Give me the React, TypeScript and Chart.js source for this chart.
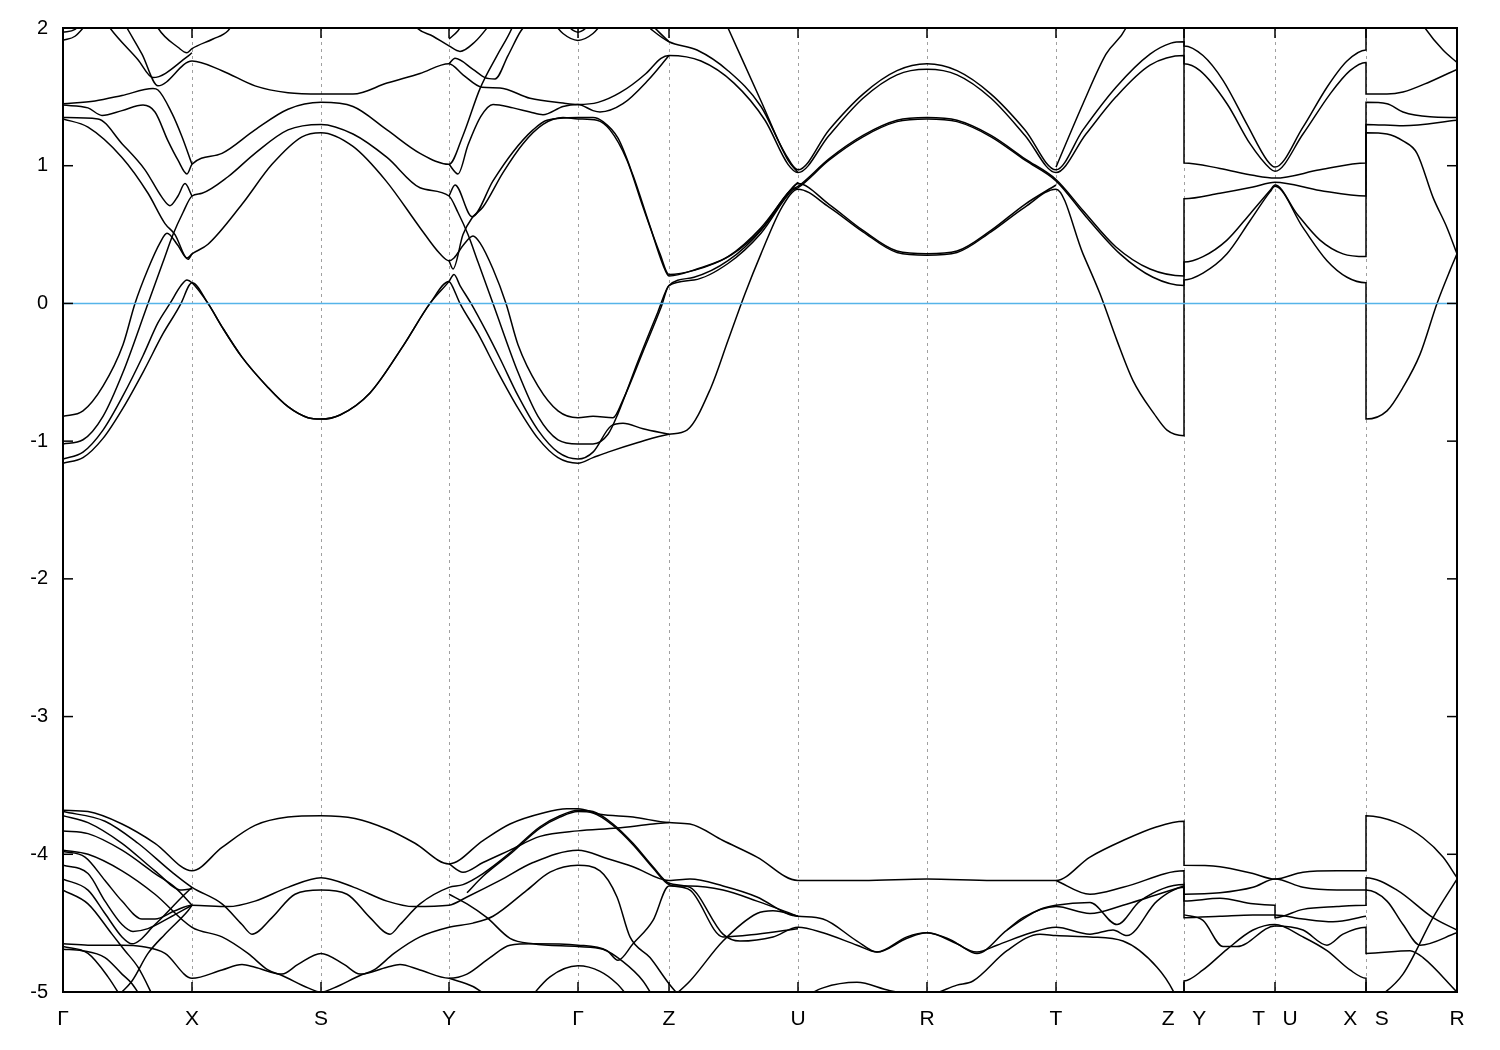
import { useEffect, useRef } from 'react';
import { Chart, registerables } from 'chart.js';

Chart.register(...registerables);

type Pt = [number, number];

// High-symmetry k positions and labels
const kPos = [0, 0.129, 0.258, 0.386, 0.515, 0.606, 0.735, 0.864, 0.993, 1.121, 1.212, 1.303, 1.394];
const kLabels = ['Γ', 'X', 'S', 'Y', 'Γ', 'Z', 'U', 'R', 'T', 'Z   Y', 'T   U', 'X   S', 'R'];
const eTicks = [2, 1, 0, -1, -2, -3, -4, -5];
const fermiLine: Pt[] = [[0, 0], [1.394, 0]];

// ---------- bands near the Fermi level ----------
const u1: Pt[] = [[0,-1.16],[0.02,-1.12],[0.04,-0.98],[0.06,-0.76],[0.08,-0.50],[0.10,-0.22],[0.118,0.0],[0.126,0.13],[0.129,0.15],[0.145,0.0],[0.159,-0.17],[0.179,-0.39],[0.205,-0.61],[0.225,-0.75],[0.245,-0.83],[0.258,-0.84],[0.277,-0.81],[0.307,-0.65],[0.340,-0.31],[0.367,0.0],[0.386,0.16],[0.389,0.13],[0.397,0.0],[0.415,-0.22],[0.435,-0.50],[0.455,-0.76],[0.475,-0.98],[0.495,-1.12],[0.515,-1.16],[0.530,-1.12],[0.545,-1.08],[0.575,-1.01],[0.606,-0.95],[0.624,-0.92],[0.648,-0.61],[0.665,-0.27],[0.682,0.07],[0.698,0.36],[0.719,0.70],[0.735,0.83],[0.766,0.70],[0.800,0.52],[0.834,0.37],[0.864,0.35],[0.894,0.37],[0.928,0.52],[0.962,0.70],[0.993,0.83],[1.020,0.36],[1.037,0.07],[1.054,-0.27],[1.070,-0.56],[1.091,-0.80],[1.104,-0.92],[1.121,-0.96],[1.121,0.17],[1.140,0.22],[1.164,0.36],[1.187,0.60],[1.207,0.81],[1.212,0.85],[1.240,0.55],[1.264,0.31],[1.284,0.19],[1.303,0.15],[1.303,-0.84],[1.324,-0.78],[1.340,-0.61],[1.357,-0.37],[1.374,0.0],[1.387,0.24],[1.394,0.36]];
const u2: Pt[] = [[0,-1.13],[0.02,-1.08],[0.04,-0.92],[0.06,-0.67],[0.08,-0.38],[0.095,-0.14],[0.107,0.0],[0.118,0.13],[0.124,0.17],[0.129,0.15],[0.145,0.0],[0.159,-0.17],[0.179,-0.39],[0.205,-0.61],[0.225,-0.75],[0.245,-0.83],[0.258,-0.84],[0.277,-0.81],[0.307,-0.65],[0.340,-0.31],[0.367,0.0],[0.386,0.16],[0.391,0.21],[0.397,0.13],[0.408,0.0],[0.423,-0.20],[0.437,-0.40],[0.455,-0.67],[0.475,-0.92],[0.495,-1.08],[0.515,-1.13],[0.530,-1.08],[0.548,-0.89],[0.560,-0.87],[0.580,-0.91],[0.606,-0.95]];
const u3: Pt[] = [[0,-0.82],[0.02,-0.78],[0.04,-0.60],[0.06,-0.30],[0.072,0.0],[0.085,0.25],[0.097,0.44],[0.104,0.51],[0.115,0.42],[0.124,0.33],[0.129,0.36],[0.145,0.43],[0.179,0.72],[0.209,1.01],[0.239,1.21],[0.258,1.24],[0.290,1.14],[0.323,0.89],[0.357,0.55],[0.377,0.36],[0.386,0.31],[0.391,0.33],[0.400,0.42],[0.410,0.49],[0.417,0.44],[0.430,0.25],[0.443,0.0],[0.455,-0.30],[0.475,-0.60],[0.495,-0.78],[0.515,-0.83],[0.530,-0.82],[0.550,-0.83],[0.560,-0.70],[0.580,-0.35],[0.598,-0.03],[0.606,0.13],[0.631,0.17],[0.665,0.29],[0.698,0.51],[0.729,0.82],[0.735,0.84],[0.766,1.04],[0.800,1.21],[0.834,1.32],[0.864,1.34],[0.894,1.32],[0.928,1.21],[0.962,1.04],[0.993,0.89],[1.023,0.63],[1.057,0.36],[1.090,0.19],[1.121,0.13],[1.121,0.30],[1.140,0.34],[1.164,0.46],[1.187,0.65],[1.207,0.82],[1.212,0.86],[1.234,0.65],[1.257,0.46],[1.280,0.36],[1.303,0.34],[1.303,1.24],[1.324,1.23],[1.340,1.18],[1.354,1.09],[1.370,0.77],[1.384,0.55],[1.394,0.36]];
const u4: Pt[] = [[0,-1.02],[0.02,-0.99],[0.04,-0.82],[0.06,-0.50],[0.085,0.0],[0.100,0.30],[0.110,0.50],[0.120,0.66],[0.129,0.78],[0.139,0.80],[0.165,0.92],[0.192,1.09],[0.225,1.26],[0.258,1.30],[0.290,1.23],[0.324,1.06],[0.357,0.84],[0.386,0.78],[0.395,0.66],[0.405,0.50],[0.415,0.30],[0.430,0.0],[0.455,-0.50],[0.475,-0.82],[0.495,-0.99],[0.515,-1.02],[0.530,-1.02],[0.545,-0.95],[0.555,-0.80],[0.575,-0.42],[0.595,-0.06],[0.606,0.13],[0.631,0.19],[0.665,0.31],[0.698,0.53],[0.727,0.82],[0.735,0.85],[0.766,1.05],[0.800,1.22],[0.834,1.33],[0.864,1.35],[0.894,1.33],[0.928,1.22],[0.962,1.05],[0.993,0.90],[1.020,0.675],[1.053,0.41],[1.087,0.25],[1.121,0.20],[1.121,0.76],[1.157,0.80],[1.190,0.845],[1.212,0.88],[1.257,0.82],[1.303,0.78],[1.303,1.30],[1.340,1.29],[1.394,1.33]];
const u5a: Pt[] = [[0,1.34],[0.025,1.28],[0.059,1.06],[0.085,0.80],[0.102,0.58],[0.112,0.50],[0.125,0.32],[0.129,0.36]];
const u5b: Pt[] = [[0.386,0.31],[0.390,0.25],[0.400,0.50],[0.409,0.62],[0.420,0.70],[0.440,0.95],[0.460,1.16],[0.480,1.30],[0.500,1.35],[0.515,1.34],[0.534,1.33],[0.547,1.26],[0.564,1.04],[0.580,0.70],[0.597,0.36],[0.606,0.21],[0.631,0.24],[0.665,0.34],[0.698,0.55],[0.725,0.80],[0.735,0.87],[0.766,0.72],[0.800,0.53],[0.834,0.38],[0.864,0.36],[0.894,0.38],[0.928,0.53],[0.962,0.72],[0.993,0.86]];
const u6a: Pt[] = [[0,1.35],[0.035,1.34],[0.059,1.16],[0.082,0.97],[0.099,0.77],[0.107,0.71],[0.115,0.78],[0.122,0.87],[0.129,0.78]];
const u6b: Pt[] = [[0.386,0.78],[0.392,0.86],[0.409,0.63],[0.430,0.89],[0.450,1.10],[0.470,1.26],[0.484,1.33],[0.515,1.35],[0.530,1.35],[0.540,1.32],[0.555,1.20],[0.570,0.93],[0.587,0.56],[0.600,0.28],[0.606,0.20],[0.634,0.25],[0.668,0.35],[0.701,0.56],[0.727,0.82],[0.735,0.88]];
const u7: Pt[] = [[0,1.44],[0.025,1.42],[0.039,1.365],[0.059,1.40],[0.080,1.44],[0.092,1.39],[0.105,1.18],[0.115,1.04],[0.124,0.94],[0.129,1.01],[0.159,1.09],[0.192,1.26],[0.225,1.41],[0.258,1.46],[0.290,1.43],[0.324,1.26],[0.357,1.09],[0.386,1.01],[0.400,1.22],[0.417,1.56],[0.434,1.80],[0.449,2.0],[0.452,2.06]];
const u8a: Pt[] = [[0,1.45],[0.032,1.47],[0.059,1.51],[0.090,1.56],[0.095,1.55],[0.109,1.38],[0.119,1.21],[0.129,1.01]];
const u8b: Pt[] = [[0.386,1.01],[0.395,0.94],[0.405,1.15],[0.418,1.36],[0.430,1.445],[0.450,1.42],[0.467,1.39],[0.480,1.37],[0.500,1.43],[0.515,1.445],[0.530,1.40],[0.537,1.39],[0.560,1.45],[0.585,1.62],[0.606,1.80]];
const u9: Pt[] = [[0.040,2.08],[0.047,2.0],[0.075,1.77],[0.090,1.64],[0.124,1.79],[0.129,1.82]];
const u10: Pt[] = [[0.058,2.08],[0.064,2.0],[0.079,1.81],[0.095,1.58],[0.129,1.76],[0.159,1.69],[0.192,1.58],[0.225,1.53],[0.258,1.52],[0.290,1.52],[0.324,1.60],[0.357,1.67],[0.386,1.74],[0.400,1.66],[0.419,1.57],[0.437,1.565],[0.467,1.49],[0.500,1.455],[0.515,1.445],[0.535,1.46],[0.557,1.53],[0.583,1.67],[0.598,1.78],[0.606,1.80],[0.638,1.76],[0.671,1.60],[0.702,1.33],[0.725,1.01],[0.735,0.95],[0.766,1.22],[0.800,1.49],[0.834,1.66],[0.864,1.70],[0.894,1.66],[0.928,1.49],[0.962,1.22],[0.993,0.95],[1.023,1.23],[1.053,1.50],[1.087,1.73],[1.121,1.80],[1.121,1.02],[1.157,0.98],[1.190,0.93],[1.212,0.91],[1.257,0.97],[1.303,1.02],[1.303,1.46],[1.324,1.45],[1.340,1.39],[1.367,1.355],[1.394,1.35]];
const u11: Pt[] = [[0.386,1.74],[0.392,1.78],[0.410,1.70],[0.422,1.64],[0.432,1.63],[0.445,1.80],[0.458,1.98],[0.468,2.06]];
const u12: Pt[] = [[0.090,2.08],[0.095,2.0],[0.115,1.86],[0.124,1.82],[0.129,1.85],[0.150,1.92],[0.165,1.98],[0.172,2.06]];
const u13: Pt[] = [[0.348,2.06],[0.354,2.0],[0.370,1.94],[0.386,1.87],[0.397,1.83],[0.412,1.90],[0.424,2.0],[0.430,2.06]];
const u14: Pt[] = [[0,1.97],[0.012,1.99],[0.020,2.06]];
const u15: Pt[] = [[0,1.91],[0.012,1.94],[0.027,2.06]];
const u16: Pt[] = [[0.488,2.06],[0.500,1.96],[0.515,1.91],[0.530,1.96],[0.542,2.06]];
const u17: Pt[] = [[0.500,2.06],[0.507,2.0],[0.515,1.97],[0.523,2.0],[0.530,2.06]];
const u18: Pt[] = [[0.578,2.06],[0.590,1.98],[0.606,1.90],[0.634,1.84],[0.665,1.69],[0.698,1.43],[0.722,1.09],[0.735,0.97],[0.766,1.26],[0.800,1.52],[0.834,1.69],[0.864,1.74],[0.894,1.69],[0.928,1.52],[0.962,1.26],[0.993,0.97],[1.020,1.26],[1.053,1.57],[1.087,1.81],[1.108,1.89],[1.121,1.90],[1.121,1.74],[1.137,1.69],[1.164,1.45],[1.187,1.16],[1.207,0.98],[1.212,0.96],[1.240,1.23],[1.267,1.52],[1.287,1.69],[1.303,1.75],[1.303,1.52],[1.324,1.52],[1.340,1.535],[1.367,1.61],[1.394,1.70]];
const u19: Pt[] = [[0.584,2.06],[0.596,1.97],[0.606,1.90]];
const u20: Pt[] = [[0.660,2.08],[0.665,2.0],[0.698,1.47],[0.725,1.04],[0.735,0.95]];
const u21: Pt[] = [[0.993,0.99],[1.020,1.45],[1.043,1.81],[1.063,2.0],[1.066,2.06]];
const u22: Pt[] = [[1.121,2.06],[1.121,1.87],[1.140,1.80],[1.160,1.62],[1.184,1.30],[1.204,1.04],[1.212,0.99],[1.240,1.28],[1.264,1.57],[1.284,1.76],[1.303,1.84],[1.303,2.06]];
const u23: Pt[] = [[1.357,2.06],[1.362,2.0],[1.380,1.84],[1.394,1.75]];
const u24: Pt[] = [[0.386,1.92],[0.395,1.98],[0.402,2.06]];

// ---------- deeper bands (-5 .. -3.6 eV) ----------
const l1: Pt[] = [[0,-3.68],[0.025,-3.69],[0.059,-3.78],[0.092,-3.92],[0.129,-4.12],[0.159,-3.95],[0.192,-3.79],[0.225,-3.73],[0.258,-3.72],[0.292,-3.74],[0.325,-3.82],[0.352,-3.92],[0.386,-4.07],[0.420,-3.90],[0.447,-3.78],[0.480,-3.70],[0.504,-3.67],[0.515,-3.67],[0.537,-3.71],[0.570,-3.73],[0.606,-3.77],[0.627,-3.78],[0.660,-3.90],[0.694,-4.02],[0.735,-4.19],[0.800,-4.19],[0.864,-4.18],[0.930,-4.19],[0.993,-4.19],[1.027,-4.02],[1.060,-3.90],[1.094,-3.80],[1.121,-3.76],[1.121,-4.08],[1.157,-4.09],[1.190,-4.14],[1.212,-4.18],[1.240,-4.13],[1.274,-4.12],[1.303,-4.12],[1.303,-3.72],[1.334,-3.77],[1.360,-3.88],[1.380,-4.02],[1.394,-4.17]];
const l2: Pt[] = [[0,-3.69],[0.042,-3.76],[0.075,-3.92],[0.109,-4.13],[0.129,-4.24],[0.159,-4.36],[0.179,-4.51],[0.189,-4.58],[0.209,-4.46],[0.232,-4.29],[0.258,-4.26],[0.284,-4.29],[0.307,-4.46],[0.327,-4.58],[0.337,-4.51],[0.357,-4.36],[0.386,-4.24],[0.400,-4.22],[0.420,-4.14],[0.447,-3.99],[0.477,-3.80],[0.497,-3.72],[0.515,-3.68],[0.530,-3.69],[0.550,-3.78],[0.570,-3.92],[0.590,-4.09],[0.606,-4.21],[0.627,-4.24],[0.660,-4.58],[0.677,-4.63],[0.710,-4.60],[0.735,-4.53],[0.760,-4.57],[0.794,-4.66],[0.814,-4.71],[0.844,-4.61],[0.864,-4.57],[0.884,-4.61],[0.914,-4.71],[0.934,-4.66],[0.968,-4.57],[0.993,-4.53],[1.027,-4.58],[1.050,-4.55],[1.064,-4.59],[1.094,-4.34],[1.121,-4.24],[1.121,-4.46],[1.157,-4.45],[1.190,-4.44],[1.212,-4.44],[1.240,-4.47],[1.270,-4.49],[1.303,-4.45]];
const l2b: Pt[] = [[0.404,-4.28],[0.420,-4.16],[0.447,-4.00],[0.477,-3.81],[0.497,-3.73],[0.515,-3.69],[0.530,-3.70],[0.550,-3.79],[0.570,-3.93],[0.590,-4.10],[0.606,-4.22],[0.627,-4.26],[0.660,-4.60],[0.694,-4.58],[0.735,-4.54]];
const l3: Pt[] = [[0,-3.72],[0.025,-3.77],[0.059,-3.92],[0.092,-4.12],[0.119,-4.26],[0.129,-4.25]];
const l4: Pt[] = [[0,-3.98],[0.022,-4.02],[0.042,-4.19],[0.059,-4.34],[0.079,-4.47],[0.092,-4.47],[0.112,-4.41],[0.129,-4.37],[0.165,-4.38],[0.192,-4.34],[0.225,-4.24],[0.258,-4.17],[0.291,-4.24],[0.324,-4.34],[0.351,-4.38],[0.386,-4.37],[0.404,-4.31],[0.437,-4.19],[0.470,-4.06],[0.515,-3.97],[0.544,-4.03],[0.570,-4.09],[0.606,-4.19],[0.627,-4.18],[0.660,-4.23],[0.694,-4.31],[0.727,-4.44],[0.735,-4.45],[0.760,-4.47],[0.794,-4.63],[0.814,-4.71],[0.844,-4.60],[0.864,-4.57],[0.894,-4.65],[0.914,-4.72],[0.944,-4.55],[0.977,-4.40],[0.993,-4.37],[1.027,-4.35],[1.054,-4.51],[1.077,-4.34],[1.121,-4.22],[1.121,-4.34],[1.157,-4.32],[1.190,-4.36],[1.212,-4.37],[1.212,-4.46],[1.240,-4.40],[1.274,-4.38],[1.303,-4.37],[1.303,-4.17],[1.334,-4.26],[1.370,-4.46],[1.394,-4.55]];
const l5: Pt[] = [[0,-3.97],[0.025,-4.0],[0.059,-4.12],[0.092,-4.29],[0.129,-4.53],[0.159,-4.60],[0.185,-4.72],[0.205,-4.84],[0.219,-4.88],[0.245,-4.97],[0.258,-5.0],[0.271,-4.97],[0.297,-4.88],[0.311,-4.84],[0.331,-4.72],[0.357,-4.60],[0.386,-4.53],[0.410,-4.50],[0.430,-4.45],[0.464,-4.26],[0.487,-4.13],[0.515,-4.08],[0.537,-4.12],[0.554,-4.31],[0.567,-4.60],[0.587,-4.75],[0.606,-4.94],[0.620,-5.06]];
const l6: Pt[] = [[0,-4.08],[0.025,-4.14],[0.042,-4.34],[0.059,-4.51],[0.070,-4.56],[0.085,-4.54],[0.109,-4.45],[0.129,-4.37]];
const l7: Pt[] = [[0,-4.18],[0.025,-4.26],[0.042,-4.43],[0.059,-4.60],[0.069,-4.65],[0.092,-4.51],[0.119,-4.31],[0.129,-4.24]];
const l8: Pt[] = [[0,-4.26],[0.025,-4.36],[0.049,-4.58],[0.062,-4.70],[0.075,-4.82],[0.092,-5.06]];
const l9: Pt[] = [[0,-4.65],[0.025,-4.66],[0.059,-4.66],[0.079,-4.67],[0.102,-4.72],[0.129,-4.90],[0.159,-4.84],[0.179,-4.80],[0.192,-4.82],[0.219,-4.87],[0.235,-4.80],[0.258,-4.72],[0.281,-4.80],[0.297,-4.87],[0.324,-4.82],[0.337,-4.80],[0.357,-4.84],[0.386,-4.90],[0.404,-4.87],[0.427,-4.75],[0.447,-4.66],[0.470,-4.65],[0.515,-4.66],[0.544,-4.70],[0.555,-4.77],[0.570,-4.65],[0.590,-4.48],[0.606,-4.23],[0.627,-4.23],[0.660,-4.26],[0.694,-4.34],[0.735,-4.45]];
const l10: Pt[] = [[0,-4.69],[0.019,-4.70],[0.042,-4.75],[0.059,-4.87],[0.069,-4.94],[0.080,-5.06]];
const l11: Pt[] = [[0,-4.67],[0.025,-4.72],[0.045,-4.89],[0.060,-5.06]];
const l12: Pt[] = [[0.050,-5.06],[0.069,-4.92],[0.085,-4.72],[0.102,-4.58],[0.125,-4.41],[0.129,-4.37]];
const l13: Pt[] = [[0.386,-4.07],[0.400,-4.13],[0.420,-4.06],[0.447,-3.97],[0.477,-3.87],[0.515,-3.83],[0.554,-3.81],[0.590,-3.78],[0.606,-3.77]];
const l14: Pt[] = [[0.386,-4.29],[0.404,-4.36],[0.424,-4.46],[0.447,-4.61],[0.470,-4.65],[0.515,-4.67],[0.540,-4.69],[0.560,-4.78],[0.580,-4.92],[0.592,-5.06]];
const l15: Pt[] = [[0.465,-5.06],[0.487,-4.89],[0.515,-4.81],[0.537,-4.85],[0.554,-4.94],[0.568,-5.06]];
const l17: Pt[] = [[0.606,-5.06],[0.627,-4.92],[0.660,-4.63],[0.694,-4.43],[0.710,-4.41],[0.735,-4.45]];
const l18: Pt[] = [[0.735,-5.06],[0.760,-4.97],[0.794,-4.93],[0.827,-4.99],[0.864,-5.02],[0.894,-4.95],[0.910,-4.92],[0.944,-4.70],[0.977,-4.58],[0.993,-4.59],[1.027,-4.60],[1.060,-4.63],[1.094,-4.82],[1.110,-4.99],[1.114,-5.06]];
const l19: Pt[] = [[0.993,-4.19],[1.027,-4.29],[1.060,-4.24],[1.121,-4.12],[1.121,-4.29],[1.157,-4.28],[1.190,-4.24],[1.212,-4.18],[1.240,-4.24],[1.274,-4.26],[1.303,-4.26],[1.324,-4.34],[1.340,-4.51],[1.357,-4.66],[1.394,-4.57]];
const l20: Pt[] = [[1.121,-4.44],[1.140,-4.48],[1.160,-4.67],[1.174,-4.67],[1.212,-4.52],[1.240,-4.55],[1.264,-4.66],[1.280,-4.58],[1.303,-4.53],[1.303,-4.72],[1.347,-4.70],[1.360,-4.75],[1.394,-5.0]];
const l21: Pt[] = [[1.121,-5.06],[1.121,-4.92],[1.140,-4.84],[1.164,-4.69],[1.190,-4.55],[1.212,-4.51],[1.240,-4.60],[1.264,-4.70],[1.287,-4.84],[1.303,-4.90],[1.303,-5.06]];
const l22: Pt[] = [[1.313,-5.06],[1.340,-4.87],[1.370,-4.46],[1.394,-4.18]];
const l24: Pt[] = [[0.944,-4.55],[0.960,-4.46],[0.993,-4.38],[1.027,-4.43],[1.060,-4.37],[1.121,-4.23]];
const l25: Pt[] = [[0.386,-4.90],[0.410,-4.96],[0.430,-5.06]];
const l26: Pt[] = [[0,-3.83],[0.025,-3.85],[0.059,-3.97],[0.092,-4.14],[0.112,-4.24],[0.129,-4.37]];

const bandLines: Pt[][] = [
  u1, u2, u3, u4, u5a, u5b, u6a, u6b, u7, u8a, u8b, u9, u10, u11, u12, u13, u14, u15, u16, u17, u18, u19, u20, u21, u22, u23, u24,
  l1, l2, l2b, l3, l4, l5, l6, l7, l8, l9, l10, l11, l12, l13, l14, l15, l17, l18, l19, l20, l21, l22, l24, l25, l26,
];

const FONT = "'Liberation Sans', Arial, Helvetica, sans-serif";

const framePlugin = {
  id: 'gnuFrame',
  beforeDatasetsDraw(chart: any) {
    const { ctx, chartArea: a, scales } = chart;
    ctx.save();
    ctx.strokeStyle = '#a0a0a0';
    ctx.lineWidth = 1;
    ctx.setLineDash([3, 4]);
    kPos.forEach((k) => {
      const px = Math.round(scales.x.getPixelForValue(k)) + 0.5;
      if (px <= a.left + 1 || px >= a.right - 1) return;
      ctx.beginPath();
      ctx.moveTo(px, a.top);
      ctx.lineTo(px, a.bottom);
      ctx.stroke();
    });
    ctx.restore();
  },
  afterDraw(chart: any) {
    const { ctx, chartArea: a, scales } = chart;
    ctx.save();
    ctx.strokeStyle = '#000';
    ctx.lineWidth = 1.5;
    ctx.setLineDash([]);
    const seg = (x1: number, y1: number, x2: number, y2: number) => {
      ctx.beginPath();
      ctx.moveTo(x1, y1);
      ctx.lineTo(x2, y2);
      ctx.stroke();
    };
    eTicks.forEach((v) => {
      const py = scales.y.getPixelForValue(v);
      seg(a.left, py, a.left + 10, py);
      seg(a.right - 10, py, a.right, py);
    });
    kPos.forEach((k) => {
      const px = scales.x.getPixelForValue(k);
      seg(px, a.bottom, px, a.bottom - 10);
      seg(px, a.top, px, a.top + 10);
    });
    ctx.lineWidth = 2;
    ctx.strokeRect(a.left, a.top, a.right - a.left, a.bottom - a.top);
    ctx.restore();
  },
};

export default function App() {
  const ref = useRef<HTMLCanvasElement>(null);
  useEffect(() => {
    if (!ref.current) return;
    const datasets: any[] = bandLines.map((line) => ({
      data: line.map(([x, y]) => ({ x, y })),
      borderColor: '#000000',
      borderWidth: 1.5,
      pointRadius: 0,
      fill: false,
      cubicInterpolationMode: 'monotone',
      order: 1,
    }));
    datasets.push({
      data: fermiLine.map(([x, y]) => ({ x, y })),
      borderColor: '#56b4e9',
      borderWidth: 1.5,
      pointRadius: 0,
      fill: false,
      order: 0,
    });
    const chart = new Chart(ref.current, {
      type: 'line',
      data: { datasets },
      options: {
        responsive: false,
        animation: false,
        devicePixelRatio: 1,
        events: [],
        layout: { padding: { top: 28, right: 43, left: 0, bottom: 0 } },
        plugins: { legend: { display: false }, tooltip: { enabled: false } },
        scales: {
          x: {
            type: 'linear',
            min: 0,
            max: 1.394,
            afterBuildTicks: (s: any) => {
              s.ticks = kPos.map((v) => ({ value: v }));
            },
            afterFit: (s: any) => {
              s.height = 58;
            },
            ticks: {
              autoSkip: false,
              maxRotation: 0,
              minRotation: 0,
              padding: 15,
              color: '#000',
              font: { family: FONT, size: 21 },
              callback: (_v: any, i: number) => kLabels[i],
            },
            grid: { display: false, drawTicks: false },
            border: { display: false },
          },
          y: {
            type: 'linear',
            min: -5,
            max: 2,
            afterBuildTicks: (s: any) => {
              s.ticks = eTicks.map((v) => ({ value: v }));
            },
            afterFit: (s: any) => {
              s.width = 63;
            },
            ticks: {
              padding: 15,
              color: '#000',
              font: { family: FONT, size: 20 },
              callback: (v: any) => String(v),
            },
            grid: { display: false, drawTicks: false },
            border: { display: false },
          },
        },
      } as any,
      plugins: [framePlugin],
    });
    return () => chart.destroy();
  }, []);
  return (
    <div style={{ position: 'absolute', left: 0, top: 0, width: 1500, height: 1050, background: '#ffffff' }}>
      <canvas ref={ref} width={1500} height={1050} style={{ display: 'block' }} />
    </div>
  );
}
